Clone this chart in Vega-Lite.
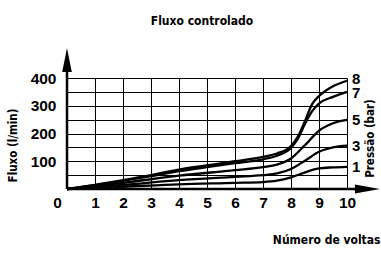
{
  "$schema": "https://vega.github.io/schema/vega-lite/v6.json",
  "width": 280,
  "height": 111,
  "autosize": {"type": "none"},
  "padding": {"left": 67, "top": 78, "right": 34, "bottom": 64},
  "background": "white",
  "config": {"view": {"stroke": null}},
  "title": {
    "text": "Fluxo controlado",
    "frame": "group",
    "anchor": "middle",
    "baseline": "alphabetic",
    "offset": 11,
    "dx": -5,
    "font": "'DejaVu Sans Condensed', Roboto, sans-serif",
    "fontSize": 12,
    "fontWeight": "bold",
    "color": "black"
  },
  "datasets": {
    "curves": [
      {"turns": 0, "flow": 0, "bar": "8"}, {"turns": 1, "flow": 15, "bar": "8"}, {"turns": 2, "flow": 32, "bar": "8"}, {"turns": 3, "flow": 50, "bar": "8"}, {"turns": 4, "flow": 70, "bar": "8"}, {"turns": 5, "flow": 85, "bar": "8"}, {"turns": 6, "flow": 100, "bar": "8"}, {"turns": 7, "flow": 116, "bar": "8"}, {"turns": 7.5, "flow": 128, "bar": "8"}, {"turns": 8, "flow": 155, "bar": "8"}, {"turns": 8.25, "flow": 190, "bar": "8"}, {"turns": 8.5, "flow": 245, "bar": "8"}, {"turns": 8.75, "flow": 305, "bar": "8"}, {"turns": 9, "flow": 335, "bar": "8"}, {"turns": 9.25, "flow": 355, "bar": "8"}, {"turns": 9.5, "flow": 370, "bar": "8"}, {"turns": 10, "flow": 390, "bar": "8"},
      {"turns": 0, "flow": 0, "bar": "7"}, {"turns": 1, "flow": 14, "bar": "7"}, {"turns": 2, "flow": 29, "bar": "7"}, {"turns": 3, "flow": 46, "bar": "7"}, {"turns": 4, "flow": 64, "bar": "7"}, {"turns": 5, "flow": 79, "bar": "7"}, {"turns": 6, "flow": 93, "bar": "7"}, {"turns": 7, "flow": 107, "bar": "7"}, {"turns": 7.5, "flow": 120, "bar": "7"}, {"turns": 8, "flow": 148, "bar": "7"}, {"turns": 8.25, "flow": 182, "bar": "7"}, {"turns": 8.5, "flow": 235, "bar": "7"}, {"turns": 8.75, "flow": 280, "bar": "7"}, {"turns": 9, "flow": 308, "bar": "7"}, {"turns": 9.5, "flow": 332, "bar": "7"}, {"turns": 10, "flow": 350, "bar": "7"},
      {"turns": 0, "flow": 0, "bar": "5"}, {"turns": 2, "flow": 22, "bar": "5"}, {"turns": 4, "flow": 48, "bar": "5"}, {"turns": 6, "flow": 68, "bar": "5"}, {"turns": 7, "flow": 79, "bar": "5"}, {"turns": 7.5, "flow": 88, "bar": "5"}, {"turns": 8, "flow": 110, "bar": "5"}, {"turns": 8.5, "flow": 158, "bar": "5"}, {"turns": 9, "flow": 210, "bar": "5"}, {"turns": 9.5, "flow": 237, "bar": "5"}, {"turns": 10, "flow": 249, "bar": "5"},
      {"turns": 0, "flow": 0, "bar": "3"}, {"turns": 2, "flow": 15, "bar": "3"}, {"turns": 4, "flow": 32, "bar": "3"}, {"turns": 6, "flow": 44, "bar": "3"}, {"turns": 7, "flow": 50, "bar": "3"}, {"turns": 7.5, "flow": 56, "bar": "3"}, {"turns": 8, "flow": 72, "bar": "3"}, {"turns": 8.5, "flow": 102, "bar": "3"}, {"turns": 9, "flow": 134, "bar": "3"}, {"turns": 9.5, "flow": 150, "bar": "3"}, {"turns": 10, "flow": 156, "bar": "3"},
      {"turns": 0, "flow": 0, "bar": "1"}, {"turns": 2, "flow": 8, "bar": "1"}, {"turns": 4, "flow": 17, "bar": "1"}, {"turns": 6, "flow": 22, "bar": "1"}, {"turns": 7, "flow": 25, "bar": "1"}, {"turns": 7.5, "flow": 30, "bar": "1"}, {"turns": 8, "flow": 42, "bar": "1"}, {"turns": 8.5, "flow": 60, "bar": "1"}, {"turns": 9, "flow": 74, "bar": "1"}, {"turns": 9.5, "flow": 78, "bar": "1"}, {"turns": 10, "flow": 80, "bar": "1"}
    ],
    "axes": [
      {"turns": 0, "flow": 0, "turns2": 0, "flow2": 425},
      {"turns": 0, "flow": 0, "turns2": 10.35, "flow2": 0}
    ],
    "yhead": [{"turns": 0, "flow": 465}],
    "xhead": [{"turns": 10.73, "flow": 0}]
  },
  "resolve": {"axis": {"y": "independent", "x": "independent"}},
  "layer": [
    {
      "data": {"name": "curves"},
      "mark": {"type": "line", "color": "black", "strokeWidth": 2.3, "interpolate": "monotone"},
      "encoding": {
        "x": {
          "field": "turns", "type": "quantitative",
          "scale": {"domain": [0, 10], "nice": false},
          "axis": {
            "orient": "bottom",
            "values": [0, 1, 2, 3, 4, 5, 6, 7, 8, 9, 10],
            "grid": true, "gridColor": "black", "gridWidth": 1, "gridOpacity": 1,
            "domain": false, "ticks": false,
            "labelFont": "Liberation Sans", "labelFontSize": 15.5, "labelFontWeight": "bold", "labelColor": "black",
            "labelPadding": 6,
            "labelOffset": {"condition": {"test": "datum.value == 0", "value": -10}, "value": 0},
            "labelFlush": false,
            "title": "Número de voltas",
            "titleFont": "'DejaVu Sans Condensed', Roboto, sans-serif", "titleFontSize": 12, "titleFontWeight": "bold", "titleColor": "black",
            "titleX": 313, "titleY": 54, "titleAlign": "right", "titleBaseline": "alphabetic"
          }
        },
        "y": {
          "field": "flow", "type": "quantitative",
          "scale": {"domain": [0, 400], "nice": false},
          "axis": {
            "orient": "left",
            "values": [0, 50, 100, 150, 200, 250, 300, 350, 400],
            "labelExpr": "datum.value > 0 && datum.value % 100 == 0 ? datum.label : ''",
            "grid": true, "gridColor": "black", "gridWidth": 1, "gridOpacity": 1,
            "domain": false, "ticks": false,
            "labelFont": "Liberation Sans", "labelFontSize": 15.5, "labelFontWeight": "bold", "labelColor": "black",
            "labelPadding": 11,
            "title": "Fluxo  (l/min)",
            "titleFont": "'DejaVu Sans Condensed', Roboto, sans-serif", "titleFontSize": 11.5, "titleFontWeight": "bold", "titleColor": "black",
            "titleAngle": 270, "titleX": -54, "titleY": 67, "titleAlign": "center", "titleBaseline": "middle"
          }
        },
        "detail": {"field": "bar", "type": "nominal"}
      }
    },
    {
      "data": {"name": "curves"},
      "transform": [{"filter": "datum.turns == 10"}],
      "mark": {"type": "text", "align": "left", "baseline": "middle", "dx": 5, "dy": {"expr": "datum.bar == '8' ? -2 : (datum.bar == '7' ? 1 : 0)"}, "font": "Liberation Sans", "fontSize": 15, "fontWeight": "bold", "color": "black"},
      "encoding": {
        "x": {"field": "turns", "type": "quantitative", "axis": null},
        "y": {
          "field": "flow", "type": "quantitative",
          "axis": {
            "orient": "right", "labels": false, "ticks": false, "domain": false, "grid": false,
            "title": "Pressão (bar)",
            "titleFont": "'DejaVu Sans Condensed', Roboto, sans-serif", "titleFontSize": 11.5, "titleFontWeight": "bold", "titleColor": "black",
            "titleAngle": 270, "titleX": 23, "titleY": 60, "titleAlign": "center", "titleBaseline": "middle"
          }
        },
        "text": {"field": "bar", "type": "nominal"}
      }
    },
    {
      "data": {"name": "axes"},
      "mark": {"type": "rule", "color": "black", "strokeWidth": 2.5},
      "encoding": {
        "x": {"field": "turns", "type": "quantitative", "axis": null},
        "y": {"field": "flow", "type": "quantitative", "axis": null},
        "x2": {"field": "turns2"},
        "y2": {"field": "flow2"}
      }
    },
    {
      "data": {"name": "yhead"},
      "mark": {"type": "point", "shape": "M0,-1L0.4,1L-0.4,1Z", "size": 576, "filled": true, "color": "black", "opacity": 1},
      "encoding": {
        "x": {"field": "turns", "type": "quantitative", "axis": null},
        "y": {"field": "flow", "type": "quantitative", "axis": null}
      }
    },
    {
      "data": {"name": "xhead"},
      "mark": {"type": "point", "shape": "M1,0L-1,0.36L-1,-0.36Z", "size": 625, "filled": true, "color": "black", "opacity": 1},
      "encoding": {
        "x": {"field": "turns", "type": "quantitative", "axis": null},
        "y": {"field": "flow", "type": "quantitative", "axis": null}
      }
    }
  ]
}
